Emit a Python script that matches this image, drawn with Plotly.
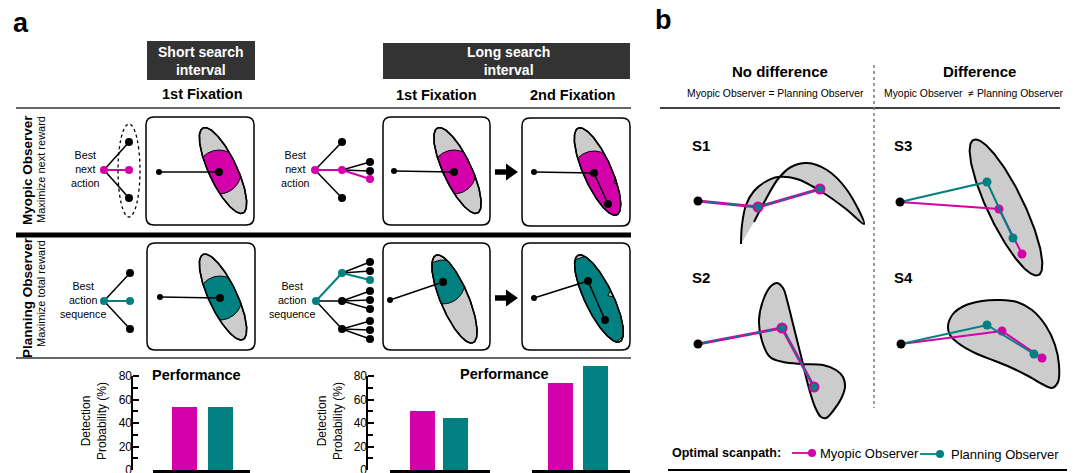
import numpy as np
import plotly.graph_objects as go

W, H = 1073, 473
MAGENTA = "#D400AA"
TEAL = "#008080"
GRAY = "#CCCCCC"
DARK = "#333333"
FONT = "Liberation Sans, Arial, sans-serif"

# ---------------- performance data ----------------
observers = ["Myopic Observer", "Planning Observer"]
short_fix1 = [53, 53]
long_fix1 = [50, 44]
long_fix2 = [74, 88]
perf_ticks = [0, 20, 40, 60, 80]
perf_minor = [10, 30, 50, 70]
bar_colors = [MAGENTA, TEAL]

# ---------------- illustration geometry (pixel space) ----------------
frames = [(146, 117, 254, 225), (383, 117, 490, 225), (522, 118, 630, 226),
          (147, 243, 255, 350), (383, 243, 490, 350), (522, 243, 630, 350)]
frame_ellipses = [(223, 170.5, 47, 14, 64.8), (457.5, 170.5, 47, 14, 64.8), (597.5, 171.5, 47.5, 14, 65.9),
                  (223, 297, 47, 14, 64.8), (454.5, 299, 47.5, 14, 67.0), (599, 298.5, 48, 14, 64.2)]
frame_start = [(159, 172), (394, 171), (534, 172), (160, 297), (390, 300), (534, 298)]
frame_fix = [[(219, 172)], [(454, 172)], [(594, 173), (608, 204)],
             [(220, 298)], [(443, 282)], [(588, 281), (605, 320)]]
frame_color = [MAGENTA, MAGENTA, MAGENTA, TEAL, TEAL, TEAL]
fovea_r = [22, 22, 22, 22, 22, 24.5]
arrows = [(495, 518, 172), (495, 518, 298)]

tree_roots = [(104, 170), (315, 170), (104, 301), (316, 301)]
tree_children = [[(129, 142), (129, 170), (129, 198)], [(342, 142), (342, 170), (342, 198)],
                 [(130, 273), (130, 301), (130, 329)], [(342, 273), (342, 301), (342, 329)]]
tree_best_child = [1, 1, 1, 0]
tree_grand = [{}, {1: [(370, 162), (370, 171), (370, 179)]}, {},
              {0: [(370, 262), (370, 271), (370, 280)], 1: [(370, 291), (370, 300), (370, 309)],
               2: [(370, 321), (370, 330), (370, 339)]}]
tree_best_grand = [None, 2, None, 2]
tree_color = [MAGENTA, MAGENTA, TEAL, TEAL]

s1_curve_a = [(741, 244), (742, 225), (746, 205), (754, 191), (765, 182), (778, 177), (797, 179), (822, 192),
              (846, 209), (864, 224)]
s1_curve_b = [(741, 244), (754, 222), (766, 199), (778, 179), (791, 167), (807, 163), (827, 170), (847, 190),
              (864, 224)]
s2_outline = [(777, 283), (783, 288), (787, 300), (792, 320), (797, 340), (802, 360), (806, 377), (810, 392),
              (815, 407), (821, 417), (826, 418), (833, 411), (841, 399), (845, 387), (843, 377), (836, 370),
              (823, 365), (803, 364), (783, 362), (770, 357), (762, 341), (759, 320), (764, 298), (771, 286)]
s3_ellipse = (1006, 207.5, 75, 18, 64.3)
s4_outline = [(948, 326), (953, 314), (964, 306), (982, 301), (1000, 300), (1017, 302), (1032, 310), (1046, 326),
              (1055, 345), (1059, 365), (1058, 382), (1052, 388), (1042, 384), (1030, 377), (1012, 368),
              (995, 361), (975, 353), (958, 343), (950, 335)]
s1_path = [(698, 201), (758, 207), (820, 189)]
s2_path = [(698, 344), (782, 328), (814, 387)]
s3_myopic = [(900, 202), (999, 209), (1022, 254)]
s3_planning = [(900, 202), (987, 182), (1013, 238)]
s4_myopic = [(901, 344), (1002, 331), (1042, 358)]
s4_planning = [(901, 344), (987, 325), (1034, 354)]


# ---------------- helpers ----------------
def ellipse_xy(cx, cy, a, b, ang, n=200):
    t = np.linspace(0, 2 * np.pi, n)
    th = np.radians(ang)
    x = cx + a * np.cos(t) * np.cos(th) - b * np.sin(t) * np.sin(th)
    y = cy + a * np.cos(t) * np.sin(th) + b * np.sin(t) * np.cos(th)
    return x, y


def ray_exit(c, d, center, a, b, th):
    p = c - center
    u = np.array([np.cos(th), np.sin(th)])
    v = np.array([-np.sin(th), np.cos(th)])
    px, py = p @ u, p @ v
    dx, dy = d @ u, d @ v
    A = dx ** 2 / a ** 2 + dy ** 2 / b ** 2
    B = 2 * (px * dx / a ** 2 + py * dy / b ** 2)
    C = px ** 2 / a ** 2 + py ** 2 / b ** 2 - 1
    return (-B + np.sqrt(np.maximum(B ** 2 - 4 * A * C, 0))) / (2 * A)


def fovea_region(ell, fixes, r):
    cx, cy, a, b, ang = ell
    th = np.radians(ang)
    c = np.mean(np.array(fixes, float), axis=0)
    phi = np.linspace(0, 2 * np.pi, 481)
    d = np.stack([np.cos(phi), np.sin(phi)], axis=1)
    t_e = ray_exit(c, d, np.array([cx, cy], float), a, b, th)
    t_c = np.max([ray_exit(c, d, np.array(f, float), r, r, 0.0) for f in fixes], axis=0)
    t = np.minimum(t_e, t_c)
    return c[0] + t * d[:, 0], c[1] + t * d[:, 1]


def rrect(x0, y0, x1, y1, r=8):
    return (f"M {x0+r} {y0} L {x1-r} {y0} Q {x1} {y0} {x1} {y0+r} L {x1} {y1-r} Q {x1} {y1} {x1-r} {y1} "
            f"L {x0+r} {y1} Q {x0} {y1} {x0} {y1-r} L {x0} {y0+r} Q {x0} {y0} {x0+r} {y0} Z")


fig = go.Figure()


def poly(xs, ys, fill, lw=1.5, spline=False):
    fig.add_trace(go.Scatter(x=list(xs), y=list(ys), mode="lines", fill="toself", fillcolor=fill,
                             line=dict(color="black", width=lw, shape="spline" if spline else "linear"),
                             hoverinfo="skip", showlegend=False, xaxis="x", yaxis="y"))


def seg(pts, color, width):
    fig.add_trace(go.Scatter(x=[p[0] for p in pts], y=[p[1] for p in pts], mode="lines",
                             line=dict(color=color, width=width),
                             hoverinfo="skip", showlegend=False, xaxis="x", yaxis="y"))


def dots(pts, color, size):
    fig.add_trace(go.Scatter(x=[p[0] for p in pts], y=[p[1] for p in pts], mode="markers",
                             marker=dict(size=size, color=color, line=dict(width=0)),
                             hoverinfo="skip", showlegend=False, xaxis="x", yaxis="y"))


shapes = []
annots = []


def text(x, y, s, size, bold=False, color="black", angle=0, xanchor="center", yanchor="middle"):
    if bold:
        s = f"<b>{s}</b>"
    annots.append(dict(x=x, y=y, xref="x", yref="y", text=s, showarrow=False, textangle=angle,
                       font=dict(size=size, color=color, family=FONT), xanchor=xanchor, yanchor=yanchor))


def hline(x0, x1, y, width, color="black", dash="solid"):
    shapes.append(dict(type="line", x0=x0, x1=x1, y0=y, y1=y, xref="x", yref="y",
                       line=dict(color=color, width=width, dash=dash)))


# ---------------- panel a ----------------
text(21, 23, "a", 27, bold=True)
shapes.append(dict(type="rect", x0=147, x1=255, y0=41, y1=80, xref="x", yref="y", fillcolor=DARK, line=dict(width=0)))
shapes.append(dict(type="rect", x0=383, x1=630, y0=43, y1=79, xref="x", yref="y", fillcolor=DARK, line=dict(width=0)))
text(201, 61, "Short search<br>interval", 14, bold=True, color="white")
text(508, 61, "Long search<br>interval", 14, bold=True, color="white")
text(202, 94, "1st Fixation", 14.5, bold=True)
text(436, 95, "1st Fixation", 14.5, bold=True)
text(572, 95, "2nd Fixation", 14.5, bold=True)
hline(16, 631, 108, 1.5, DARK)
hline(16, 631, 235, 5, "black")
hline(16, 631, 358, 1.5, DARK)

text(27, 170, "Myopic Observer", 13.5, bold=True, angle=-90)
text(41, 170, "Maximize next reward", 11, angle=-90)
text(27, 298, "Planning Observer", 13.5, bold=True, angle=-90)
text(41, 294, "Maximize total reward", 11, angle=-90)

text(85, 169, "Best<br>next<br>action", 10.7)
text(295, 169, "Best<br>next<br>action", 10.7)
text(83, 300, "Best<br>action<br>sequence", 10.7)
text(292, 300, "Best<br>action<br>sequence", 10.7)

shapes.append(dict(type="circle", x0=118, x1=140, y0=124, y1=217, xref="x", yref="y",
                   line=dict(color="black", width=1.3, dash="dot")))

# decision trees
for k, root in enumerate(tree_roots):
    col = tree_color[k]
    for i, ch in enumerate(tree_children[k]):
        best = i == tree_best_child[k]
        seg([root, ch], col if best else "black", 2 if best else 1.5)
        for j, g in enumerate(tree_grand[k].get(i, [])):
            gbest = best and j == tree_best_grand[k]
            seg([ch, g], col if gbest else "black", 2 if gbest else 1.5)
    for i, ch in enumerate(tree_children[k]):
        best = i == tree_best_child[k]
        for j, g in enumerate(tree_grand[k].get(i, [])):
            gbest = best and j == tree_best_grand[k]
            dots([g], col if gbest else "black", 8)
        dots([ch], col if best else "black", 8)
    dots([root], col, 8)

# frames with targets
for k, fr in enumerate(frames):
    shapes.append(dict(type="path", path=rrect(*fr), xref="x", yref="y", line=dict(color="black", width=1.5),
                       layer="below"))
    ex, ey = ellipse_xy(*frame_ellipses[k])
    poly(ex, ey, GRAY, 1.5)
    rx, ry = fovea_region(frame_ellipses[k], frame_fix[k], fovea_r[k])
    poly(rx, ry, frame_color[k], 1)
    poly(ex, ey, "rgba(0,0,0,0)", 1.5)
    path = [frame_start[k]] + frame_fix[k]
    seg(path, "black", 1.5)
    dots([frame_start[k]], "black", 6)
    dots(frame_fix[k], "black", 8)

for x0, x1, y in arrows:
    shapes.append(dict(type="path", xref="x", yref="y", fillcolor="black", line=dict(width=0),
                       path=f"M {x0} {y-2.8} L {x0+11} {y-2.8} L {x0+11} {y-8.5} L {x1} {y} L {x0+11} {y+8.5} "
                            f"L {x0+11} {y+2.8} L {x0} {y+2.8} Z"))

text(196, 375, "Performance", 14.5, bold=True)
text(504, 374, "Performance", 14.5, bold=True)
text(94, 421, "Detection<br>Probability (%)", 12, angle=-90)
text(330, 421, "Detection<br>Probability (%)", 12, angle=-90)

# ---------------- panel b ----------------
text(663, 20, "b", 27, bold=True)
text(780, 71, "No difference", 15, bold=True)
text(979, 71, "Difference", 15, bold=True)
text(775, 93, "Myopic Observer = Planning Observer", 10.4)
text(973, 93, "Myopic Observer  \u2260 Planning Observer", 10.4)
hline(660, 1060, 108, 1.5, "black")
shapes.append(dict(type="line", x0=874, x1=874, y0=65, y1=408, xref="x", yref="y",
                   line=dict(color="#777777", width=1.5, dash="dot")))
text(701, 145, "S1", 15, bold=True)
text(903, 145, "S3", 15, bold=True)
text(701, 277, "S2", 15, bold=True)
text(903, 277, "S4", 15, bold=True)

s1 = s1_curve_a + s1_curve_b[::-1][1:-1]
poly([p[0] for p in s1], [p[1] for p in s1], GRAY, 2, spline=True)
s2 = s2_outline + [s2_outline[0]]
poly([p[0] for p in s2], [p[1] for p in s2], GRAY, 2, spline=True)
ex, ey = ellipse_xy(*s3_ellipse)
poly(ex, ey, GRAY, 2)
s4 = s4_outline + [s4_outline[0]]
poly([p[0] for p in s4], [p[1] for p in s4], GRAY, 2, spline=True)

for pth in (s1_path, s2_path):
    seg(pth, MAGENTA, 3)
    seg(pth, TEAL, 1.2)
    dots(pth[1:], MAGENTA, 11)
    dots(pth[1:], TEAL, 7)
    dots(pth[:1], "black", 9)
for myo, pla in ((s3_myopic, s3_planning), (s4_myopic, s4_planning)):
    seg(myo, MAGENTA, 2)
    dots(myo[1:], MAGENTA, 9)
    seg(pla, TEAL, 2)
    dots(pla[1:], TEAL, 9)
    dots(myo[:1], "black", 9)

text(670, 453, "Optimal scanpath:", 12.5, bold=True, xanchor="left")
seg([(792, 453), (812, 453)], MAGENTA, 1.8)
dots([(812, 453)], MAGENTA, 8)
text(818, 453, "Myopic Observer", 13, xanchor="left")
seg([(920, 454), (940, 454)], TEAL, 1.8)
dots([(940, 454)], TEAL, 8)
text(949, 454, "Planning Observer", 13, xanchor="left")
hline(668, 1067, 470, 1.8, "black")

# ---------------- bar charts ----------------
bar_panels = [("x2", "y2", short_fix1), ("x3", "y3", long_fix1), ("x4", "y4", long_fix2)]
bar_widths = [25 / 36, 25 / 33, 25 / 35]
for (xa, ya, vals), bw in zip(bar_panels, bar_widths):
    fig.add_trace(go.Bar(x=observers, y=vals, marker=dict(color=bar_colors, line=dict(width=0)), width=bw,
                         xaxis=xa, yaxis=ya, showlegend=False, hoverinfo="skip"))

y_top = 470 - 90 * 94 / 80
ydom = [1 - 470 / H, 1 - y_top / H]


def xbar(d0, d1, rng):
    return dict(domain=[d0 / W, d1 / W], range=rng, showticklabels=False, ticks="", showgrid=False,
                zeroline=False, showline=True, linewidth=3, linecolor="black", fixedrange=True,
                automargin=False)


def ybar(pos, visible=True):
    return dict(domain=ydom, range=[0, 90], anchor="free", position=pos / W, visible=visible,
                tickvals=perf_ticks, ticks="inside", ticklen=6, tickwidth=2, tickcolor="black",
                tickfont=dict(size=12, family=FONT, color="black"), showgrid=False, zeroline=False,
                showline=False, fixedrange=True, ticklabeloverflow="allow", automargin=False,
                minor=dict(tickvals=perf_minor, ticks="inside", ticklen=5, tickwidth=1.5, tickcolor="black"))


for pos, ya in ((132, "y2"), (367, "y3")):
    shapes.append(dict(type="line", xref="paper", yref=ya, x0=pos / W, x1=pos / W, y0=0, y1=80,
                       line=dict(color="black", width=2)))

fig.update_layout(
    width=W, height=H, margin=dict(l=0, r=0, t=0, b=0, autoexpand=False),
    paper_bgcolor="white", plot_bgcolor="rgba(0,0,0,0)",
    font=dict(family=FONT, color="black"),
    xaxis=dict(domain=[0, 1], range=[0, W], visible=False, fixedrange=True, automargin=False),
    yaxis=dict(domain=[0, 1], range=[H, 0], visible=False, fixedrange=True, automargin=False),
    xaxis2=dict(anchor="y2", **xbar(153, 250, [-0.875, 1.819])),
    xaxis3=dict(anchor="y3", **xbar(390, 490, [-0.985, 2.045])),
    xaxis4=dict(anchor="y4", **xbar(532, 630, [-0.814, 1.986])),
    yaxis2=ybar(132),
    yaxis3=ybar(367),
    yaxis4=ybar(367, visible=False),
    shapes=shapes, annotations=annots, bargap=0,
)

fig.write_html("out.html", config={"displayModeBar": False},
               post_script="document.body.style.margin='0';document.body.style.overflow='hidden';")
